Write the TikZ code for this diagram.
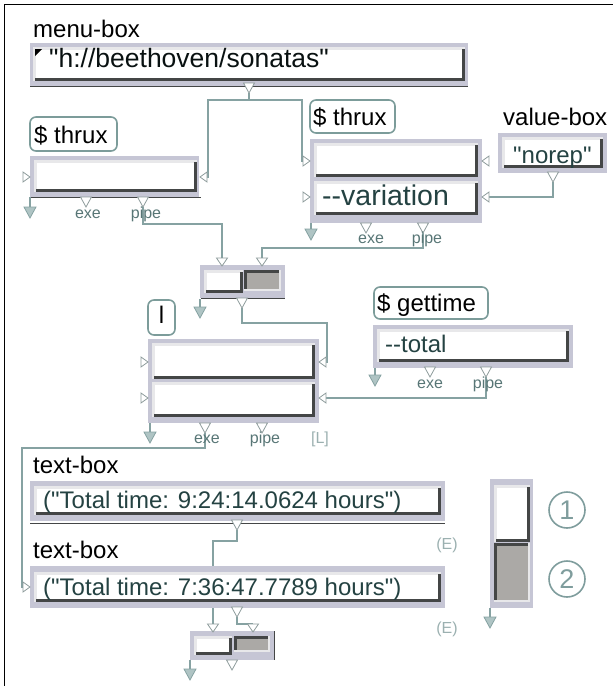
\documentclass[tikz,border=0pt]{standalone}
\usepackage{fontspec}
\setmainfont{Liberation Sans}[Ligatures=TeXOff]
\definecolor{framec}{HTML}{C6C6D5}
\definecolor{fieldlight}{HTML}{E8E8EA}
\definecolor{fielddark}{HTML}{444646}
\definecolor{pressgray}{HTML}{ABA9A6}
\definecolor{connc}{HTML}{86A2A2}
\definecolor{portc}{HTML}{8E9C9C}
\definecolor{arrfill}{HTML}{AFC4C4}
\definecolor{lblborder}{HTML}{7C9C9A}
\definecolor{fieldtext}{HTML}{244242}
\definecolor{smalltext}{HTML}{587676}
\definecolor{faint}{HTML}{9BB0B0}
\definecolor{circc}{HTML}{7F9D9D}
\pgfdeclarelayer{bg}
\pgfsetlayers{bg,main}
\tikzset{
  conn/.style={draw=connc, line width=1.6pt},
  port/.style={draw=portc, fill=white, line width=0.8pt, line join=miter},
  arrowfill/.style={draw=connc, fill=arrfill, line width=0.8pt},
  framebox/.style={fill=framec},
  lblbox/.style={draw=lblborder, fill=white, line width=1.6pt, rounded corners=6pt},
  lbltext/.style={inner sep=0pt, anchor=base west, text=black, font=\fontsize{24}{26}\selectfont},
  fldtext/.style={inner sep=0pt, anchor=base west, text=fieldtext, font=\fontsize{24}{26}\selectfont},
  small/.style={inner sep=0pt, anchor=base, text=smalltext, font=\fontsize{16}{18}\selectfont},
  faintt/.style={inner sep=0pt, anchor=base, text=faint, font=\fontsize{16}{18}\selectfont},
  circt/.style={circle, draw=circc, line width=1.6pt, minimum size=36pt, inner sep=0pt, text=circc, font=\fontsize{27}{27}\selectfont},
  selline/.style={draw=fielddark, line width=1pt},
}
\newcommand\myfield[4]{%
  \fill[white] (#1,#2) rectangle (#3,#4);
  \fill[fieldlight] (#1,#2) rectangle (#3,#2+2.5);
  \fill[fieldlight] (#1,#2) rectangle (#1+2.5,#4);
  \fill[fielddark] (#1+2,#4-3) rectangle (#3,#4);
  \fill[fielddark] (#3-3,#2+2) rectangle (#3,#4);}
\newcommand\mypressed[4]{%
  \fill[pressgray] (#1,#2) rectangle (#3,#4);
  \fill[fieldlight] (#1,#4-2.5) rectangle (#3,#4);
  \fill[fieldlight] (#3-2.5,#2) rectangle (#3,#4);
  \fill[fielddark] (#1,#2) rectangle (#3-2,#2+3);
  \fill[fielddark] (#1,#2) rectangle (#1+3,#4-2);}
\newcommand\myouttri[3]{%
  \draw[port] (#2-5.5,#3) -- (#2+5.5,#3) -- (#2,#3+10) -- cycle;
  \coordinate (#1) at (#2,#3+10);}
\newcommand\mytopport[3]{%
  \draw[port] (#2-5.5,#3-8) -- (#2+5.5,#3-8) -- (#2,#3) -- cycle;
  \coordinate (#1) at (#2,#3-8);}
\newcommand\myleftport[3]{%
  \draw[port] (#2-7,#3-5) -- (#2,#3) -- (#2-7,#3+5) -- cycle;
  \coordinate (#1) at (#2-7,#3);}
\newcommand\myrightport[3]{%
  \draw[port] (#2+7,#3-5) -- (#2,#3) -- (#2+7,#3+5) -- cycle;
  \coordinate (#1) at (#2+7,#3);}
\newcommand\myoutarr[3]{%
  \draw[conn] (#1,#2) -- (#1,#3-11);
  \draw[arrowfill] (#1-6,#3-11) -- (#1+6,#3-11) -- (#1,#3) -- cycle;}
\begin{document}
\begin{tikzpicture}[x=1pt,y=-1pt]
\useasboundingbox (0,0) rectangle (613,686);
\draw[black, line width=1pt] (4,686) -- (4,4) -- (613,4);

% ---------- menu-box ----------
\node[lbltext] (menulbl) at (33,37) {menu-box};
\fill[framebox] (30,43) rectangle (468,87);
\myfield{33}{47}{465}{81}
\fill[black] (35,49) -- (42,49) -- (35,56) -- cycle;
\draw[selline] (30,86.5) -- (468,86.5);
\node[fldtext, text=black!75!fieldtext, font=\fontsize{26.5}{28}\selectfont] (menutxt) at (49,67) {"h://beethoven/sonatas"};
\myouttri{menuOut}{249}{83}

% ---------- left thrux ----------
\draw[lblbox] (30,117) rectangle (117,151);
\node[lbltext] (thrAlbl) at (34,143) {\$ thrux};
\fill[framebox] (30,156) rectangle (199,197);
\myfield{34}{160}{197}{192}
\draw[selline] (30,197) -- (201,197);
\myleftport{thrAinL}{30}{177}
\myrightport{thrAinR}{200}{177}
\myoutarr{30}{197}{218}
\myouttri{thrAexe}{86}{197}
\myouttri{thrApipe}{143}{197}
\node[small] (thrAexel) at (88,218) {exe};
\node[small] (thrApipel) at (146,218) {pipe};

% ---------- right thrux ----------
\draw[lblbox] (310,100) rectangle (395,133);
\node[lbltext] (thrBlbl) at (313,125) {\$ thrux};
\fill[framebox] (310,139) rectangle (482,223);
\myfield{314}{143}{478}{177}
\myfield{314}{181}{478}{215}
\node[fldtext, font=\fontsize{28.5}{30}\selectfont] (thrBtxt) at (322,205) {--variation};
\myleftport{thrBin1}{310}{161}
\myleftport{thrBin2}{310}{197}
\myrightport{thrBinR1}{482}{161}
\myrightport{thrBinR2}{482}{197}
\myoutarr{311}{223}{240}
\myouttri{thrBexe}{366}{223}
\myouttri{thrBpipe}{423}{223}
\node[small] (thrBexel) at (371,243) {exe};
\node[small] (thrBpipel) at (427,243) {pipe};

% ---------- value-box ----------
\node[lbltext] (vallbl) at (503,125) {value-box};
\fill[framebox] (498,133) rectangle (607,173);
\myfield{502}{137}{603}{168}
\node[fldtext] (valtxt) at (513,163) {"norep"};
\myouttri{valOut}{553}{172}

% ---------- switch 1 ----------
\fill[framebox] (200,265) rectangle (285,298);
\myfield{204}{270}{243}{293}
\mypressed{244}{270}{281}{291}
\draw[selline] (201,298.5) -- (285,298.5);
\mytopport{swAin1}{222}{266}
\mytopport{swAin2}{262}{266}
\myoutarr{200}{299}{318}
\myouttri{swAout}{242}{298}

% ---------- l box ----------
\draw[lblbox] (148,300) rectangle (175,335);
\node[lbltext, anchor=base] (Llbl) at (161.5,323) {l};
\fill[framebox] (148,339) rectangle (319,423);
\myfield{152}{343}{315}{379}
\myfield{152}{382}{315}{417}
\myleftport{Lin1}{148}{362}
\myleftport{Lin2}{148}{398}
\myrightport{LinR1}{319}{362}
\myrightport{LinR2}{319}{398}
\myoutarr{150}{423}{443}
\myouttri{Lexe}{205}{423}
\myouttri{Lpipe}{262}{423}
\node[small] (Lexel) at (207,443) {exe};
\node[small] (Lpipel) at (265,443) {pipe};
\node[faintt] (Ltag) at (320,443) {[L]};

% ---------- gettime ----------
\draw[lblbox] (374,287) rectangle (488,319);
\node[lbltext] (gtlbl) at (377,311) {\$ gettime};
\fill[framebox] (373,325) rectangle (573,368);
\myfield{377}{329}{569}{362}
\node[fldtext] (gttxt) at (385,352) {--total};
\myoutarr{375}{368}{386}
\myouttri{gtexe}{430}{367}
\myouttri{gtpipe}{486}{367}
\node[small] (gtexel) at (430,388) {exe};
\node[small] (gtpipel) at (488,388) {pipe};

% ---------- text-box 1 ----------
\node[lbltext] (tb1lbl) at (33,473) {text-box};
\fill[framebox] (30,481) rectangle (445,521);
\myfield{34}{486}{441}{515}
\draw[selline] (30,523.5) -- (445,523.5);
\node[fldtext] (tb1txt) at (43,508) {("Total time: 9:24:14.0624 hours")};
\myouttri{tbAout}{237}{520}
\node[faintt] (tb1tag) at (447,549) {(E)};

% ---------- text-box 2 ----------
\node[lbltext] (tb2lbl) at (33,558) {text-box};
\fill[framebox] (30,566) rectangle (445,608);
\myfield{34}{572}{441}{602}
\node[fldtext] (tb2txt) at (43,595) {("Total time: 7:36:47.7789 hours")};
\myleftport{tbBin}{30}{587}
\myouttri{tbBout}{237}{607}
\node[faintt] (tb2tag) at (447,633) {(E)};

% ---------- switch 2 ----------
\fill[framebox] (190,631) rectangle (274,660);
\myfield{194}{636}{232}{655}
\mypressed{234}{636}{270}{652}
\draw[selline] (274,631) -- (274,660);
\mytopport{swBin1}{213}{632}
\mytopport{swBin2}{253}{632}
\myoutarr{190}{660}{680}
\myouttri{swBout}{232}{660}

% ---------- vertical switch ----------
\fill[framebox] (490,479) rectangle (533,608);
\myfield{494}{485}{530}{542}
\mypressed{494}{543}{530}{602}
\myoutarr{490}{608}{628}
\node[circt] (c1) at (567,510) {1};
\node[circt] (c2) at (567,579) {2};

% ---------- connectors ----------
\begin{pgfonlayer}{bg}
\draw[conn] (menuOut) -- (249,100) -| (208,177) -- (thrAinR);
\draw[conn] (menuOut) -- (249,100) -| (302,161) -- (thrBin1);
\draw[conn] (thrApipe) -- (143,224) -| (swAin1);
\draw[conn] (thrBpipe) -- (423,248) -| (swAin2);
\draw[conn] (valOut) -- (553,197) -- (thrBinR2);
\draw[conn] (swAout) -- (242,323) -| (327,362) -- (LinR1);
\draw[conn] (gtpipe) -- (486,398) -- (LinR2);
\draw[conn] (Lexe) -- (205,448) -| (22,587) -- (tbBin);
\draw[conn] (tbAout) -- (237,541) -| (swBin1);
\draw[conn] (tbBout) -- (237,624) -| (swBin2);
\end{pgfonlayer}
\end{tikzpicture}
\end{document}
